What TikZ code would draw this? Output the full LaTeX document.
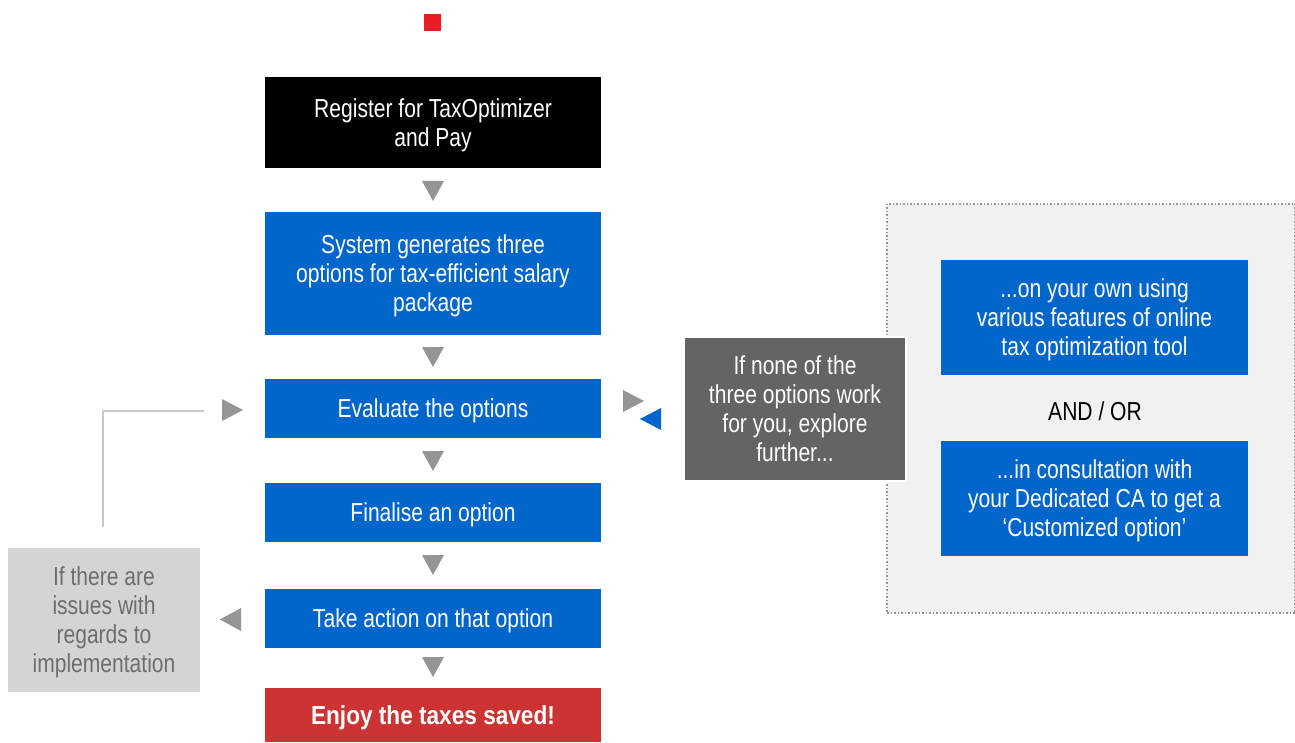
\documentclass[tikz,border=0pt]{standalone}
\usepackage{fontspec}
\setmainfont{Liberation Sans}[FakeStretch=0.81]
\newfontfamily\boldwide{Liberation Sans}[FakeStretch=0.87]
\definecolor{tblue}{HTML}{0066CC}
\definecolor{tred}{HTML}{CC3333}
\definecolor{tsq}{HTML}{ED1C24}
\definecolor{tgray}{HTML}{939598}
\definecolor{tdark}{HTML}{636466}
\definecolor{tlight}{HTML}{D3D4D6}
\definecolor{ttext}{HTML}{6D6E71}
\definecolor{tregion}{HTML}{F1F1F1}
\definecolor{tline}{HTML}{C8C8C8}
\begin{document}
\begin{tikzpicture}[x=1pt,y=-1pt,
  every node/.style={font=\fontsize{26}{29}\selectfont, align=center, inner sep=0pt, text depth=0pt},
  stepbox/.style={fill=tblue, text=white, minimum width=336pt},
  tri/.style={fill=tgray},
  bluetri/.style={fill=tblue}]
\useasboundingbox (0,0) rectangle (1295,743);
\fill[white] (0,0) rectangle (1295,743);
% red square
\fill[tsq] (424,14) rectangle (441,31);
% right region
\node[fill=tregion, draw=tgray, dotted, line width=1.5pt, minimum width=408pt, minimum height=409pt] (region) at (1091,408.5) {};
\node[fill=tblue, text=white, minimum width=307pt, minimum height=115pt] (optA) at (1094.5,317.5) {...on your own using\\various features of online\\tax optimization tool};
\node (andor) at (1095,411) {AND / OR};
\node[fill=tblue, text=white, minimum width=307pt, minimum height=115pt] (optB) at (1094.5,498.5) {...in consultation with\\your Dedicated CA to get a\\`Customized option'};
% dark box
\node[fill=tdark, text=white, draw=white, line width=2pt, minimum width=222pt, minimum height=144pt] (dark) at (795,409) {If none of the\\three options work\\for you, explore\\further...};
% main column
\node[fill=black, text=white, minimum width=336pt, minimum height=91pt] (n1) at (433,122.5) {Register for TaxOptimizer\\and Pay};
\node[stepbox, minimum height=123pt] (n2) at (433,273.5) {System generates three\\options for tax-efficient salary\\package};
\node[stepbox, minimum height=59pt] (n3) at (433,408.5) {Evaluate the options};
\node[stepbox, minimum height=59pt] (n4) at (433,512.5) {Finalise an option};
\node[stepbox, minimum height=59pt] (n5) at (433,618.5) {Take action on that option};
\node[fill=tred, text=white, minimum width=336pt, minimum height=54pt, font=\boldwide\bfseries\fontsize{26}{29}\selectfont] (n6) at (433,715) {Enjoy the taxes saved!};
% left box
\node[fill=tlight, text=ttext, minimum width=192pt, minimum height=144pt] (issues) at (104,620) {If there are\\issues with\\regards to\\implementation};
% down triangles
\fill[tri] (422,181) -- (444,181) -- (433,201) -- cycle;
\fill[tri] (422,347) -- (444,347) -- (433,367) -- cycle;
\fill[tri] (422,451) -- (444,451) -- (433,471) -- cycle;
\fill[tri] (422,555) -- (444,555) -- (433,575) -- cycle;
\fill[tri] (422,657) -- (444,657) -- (433,677) -- cycle;
% side triangles
\fill[tri] (222,399) -- (243,410) -- (222,421) -- cycle;
\fill[tri] (241,608) -- (220,619.5) -- (241,631) -- cycle;
\fill[tri] (623,390) -- (644,401) -- (623,412) -- cycle;
\fill[bluetri] (661,408) -- (640,419) -- (661,430) -- cycle;
% feedback line
\coordinate (fbstart) at (103,527);
\coordinate (fbcorner) at (103,411);
\coordinate (fbend) at (204,411);
\draw[tline, line width=1.5pt] (fbstart) -- (fbcorner) -- (fbend);
\end{tikzpicture}
\end{document}
